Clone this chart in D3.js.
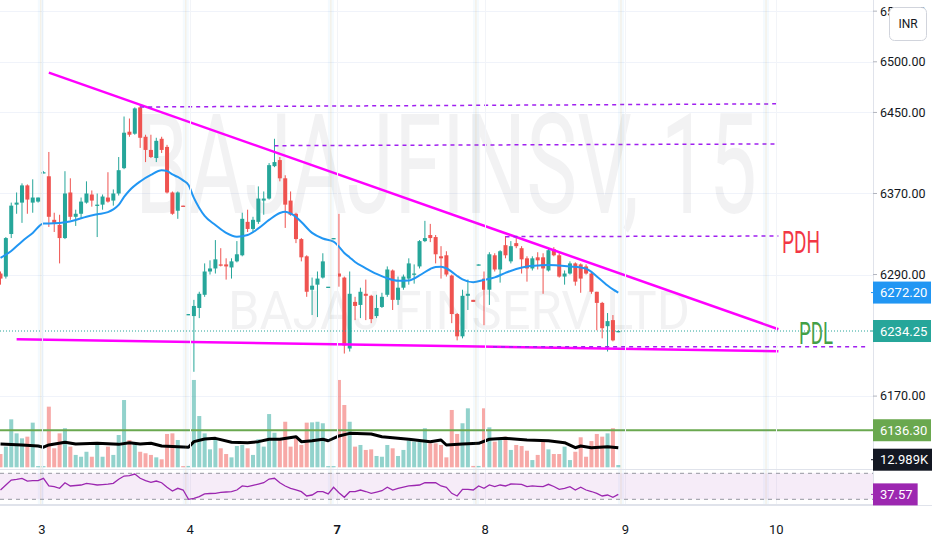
<!DOCTYPE html>
<html><head><meta charset="utf-8">
<script src="https://cdn.jsdelivr.net/npm/d3@7"></script>
<style>
body{margin:0;background:#fff;overflow:hidden}
svg{display:block;font-family:Roboto,"Noto Sans",sans-serif}
</style>
</head><body>
<svg id="c" width="932" height="550"></svg>
<script>
// ---------- data (15-min bars, BAJAJFINSV) ----------
const opens=[6291,6288,6330,6359,6361,6378,6361,6362,6391,6387,6344,6339,6326,6371,6347,6350,6361,6369,6358,6359,6366,6363,6370,6395,6431,6429,6455,6426,6413,6405,6424,6416,6371,6353,6358,6250,6249,6257,6270,6293,6296,6300,6300,6297,6303,6309,6342,6335,6342,6363,6365,6397,6403,6385,6363,6350,6325,6308,6275,6280,6287,6278,6325,6291,6287,6217,6263,6260,6271,6269,6249,6258,6270,6294,6265,6277,6286,6290,6298,6323,6329,6327,6308,6309,6289,6251,6229,6269,6265,6299,6286,6275,6309,6295,6319,6303,6321,6316,6306,6296,6307,6307,6294,6315,6309,6288,6291,6301,6300,6298,6291,6273,6262,6239,6245,6233];
const highs=[6293,6327,6361,6371,6380,6379,6384,6366,6392,6411,6351,6349,6392,6385,6354,6366,6382,6373,6370,6369,6391,6374,6406,6446,6444,6455,6457,6428,6428,6425,6426,6418,6372,6372,6358,6251,6265,6273,6301,6304,6324,6316,6306,6306,6323,6351,6354,6347,6377,6372,6400,6424,6406,6388,6372,6351,6326,6309,6287,6293,6311,6278,6326,6350,6288,6293,6268,6277,6285,6270,6270,6272,6298,6295,6288,6290,6306,6300,6324,6343,6340,6329,6318,6313,6290,6252,6275,6285,6265,6300,6293,6312,6311,6314,6328,6323,6328,6318,6308,6308,6312,6311,6316,6317,6311,6294,6303,6302,6301,6300,6293,6273,6263,6252,6250,6235];
const lows=[6280,6286,6326,6350,6341,6350,6351,6361,6390,6337,6332,6301,6325,6344,6338,6345,6360,6357,6327,6354,6361,6358,6368,6394,6426,6428,6415,6401,6405,6401,6410,6370,6349,6345,6357,6250,6194,6247,6268,6290,6291,6298,6285,6286,6302,6308,6332,6332,6340,6349,6364,6396,6382,6336,6348,6321,6303,6268,6250,6248,6286,6278,6325,6278,6212,6214,6245,6247,6245,6242,6247,6257,6268,6255,6260,6275,6280,6281,6296,6322,6322,6301,6286,6288,6242,6225,6227,6255,6263,6299,6240,6260,6293,6282,6306,6301,6316,6291,6283,6294,6295,6271,6293,6308,6287,6280,6290,6279,6272,6290,6271,6235,6227,6214,6224,6233];
const closes=[6286,6326,6358,6361,6378,6364,6366,6366,6391,6347,6341,6326,6370,6347,6350,6362,6370,6363,6359,6367,6362,6370,6393,6430,6428,6454,6425,6413,6406,6422,6413,6371,6350,6371,6357,6251,6259,6271,6293,6296,6305,6299,6298,6303,6310,6345,6335,6344,6365,6365,6398,6401,6385,6359,6349,6325,6307,6273,6279,6286,6303,6278,6326,6288,6220,6271,6259,6273,6269,6246,6257,6268,6295,6265,6277,6288,6301,6291,6323,6326,6326,6310,6306,6290,6251,6229,6269,6271,6263,6300,6275,6310,6295,6313,6309,6318,6318,6305,6296,6306,6304,6296,6314,6309,6288,6291,6301,6283,6286,6291,6273,6262,6237,6244,6225,6234.25];
// volume in thousands
const volumes=[8.8,13.7,31.8,22.5,19.2,20.3,29.6,0.8,0.8,40.2,12.6,22.5,25.9,13.7,8.2,7.0,10.3,7.0,14.8,7.0,13.7,8.2,21.4,44.6,18.1,15.9,10.3,9.3,8.2,6.6,5.3,22.1,22.5,18.1,0.8,0.9,57.9,34.0,22.5,11.9,18.1,12.6,8.8,6.6,14.1,14.8,12.6,8.2,18.6,13.7,35.3,22.9,18.1,30.2,13.7,19.2,14.8,29.6,29.8,30.2,29.2,0.8,0.8,57.9,41.3,30.2,13.7,14.8,11.5,11.9,7.5,7.0,14.8,12.6,7.5,11.5,17.7,17.0,17.0,25.9,15.9,15.9,14.8,6.6,38.0,22.1,29.2,39.1,0.9,0.9,39.1,26.5,17.0,18.1,20.3,11.5,14.8,14.1,11.0,4.8,8.2,17.0,11.9,8.8,8.8,13.7,4.8,10.3,19.9,7.0,17.4,22.1,20.3,22.5,25.9,1.5];
const rsi=[44.3,52.0,59.7,60.8,62.3,58.1,58.6,58.6,62.3,50.5,49.4,46.9,55.5,50.5,51.2,52.0,54.6,53.5,52.0,52.7,53.5,54.6,60.8,65.8,66.3,68.9,62.3,58.6,56.1,58.1,55.5,48.5,42.8,46.9,44.3,30.0,31.5,34.0,38.2,38.9,39.2,40.8,41.2,41.7,44.3,50.5,49.4,51.5,53.5,55.5,61.2,62.3,55.5,50.5,46.9,44.5,41.7,35.1,36.6,41.7,41.7,38.2,48.5,40.2,33.1,41.7,41.7,44.3,42.0,39.2,41.2,43.2,48.5,44.3,46.9,48.9,50.5,51.2,52.0,55.5,55.5,55.5,50.5,48.5,39.2,35.1,45.4,45.4,44.3,50.5,46.9,52.0,49.4,52.0,50.5,53.5,53.3,53.1,49.4,50.5,50.0,49.4,53.1,49.7,45.4,46.9,49.4,44.3,48.5,44.3,42.0,39.2,35.1,36.6,33.1,37.57];
const emaIdx=[0,2,4,6,8,10,12,14,16,18,20,21,22,23,24,26,28,30,31,32,33,34,35,36,37,38,40,42,44,46,48,50,52,53,54,55,56,58,60,62,63,64,65,66,68,70,72,74,76,78,80,81,82,83,84,85,86,88,90,92,94,96,98,100,102,104,106,108,109,110,111,112,113,114,115];
const emaVal=[6306.4,6313.3,6322.7,6331.1,6340.4,6340.6,6341.6,6343.9,6347.1,6349.5,6351.6,6354.3,6358.7,6366.6,6373,6381.9,6388.3,6392.9,6392.2,6388.8,6386.3,6382.9,6378.4,6365.6,6355.7,6347.8,6338.9,6331.1,6327.4,6329.1,6335.5,6343.9,6350.8,6352.1,6350.3,6346.8,6341.9,6331.1,6325.6,6322.5,6317.5,6311.3,6306.9,6302.4,6296.2,6290.6,6286.3,6283.9,6284.2,6289.1,6295.5,6297.5,6297.8,6296.2,6292.6,6288.6,6285.2,6282.4,6284.7,6287.2,6291.6,6295.5,6298,6298.8,6299.5,6298.8,6298,6297,6295.8,6292.6,6288.1,6283.7,6279.2,6275.3,6272.2];
const volMaIdx=[0,4,7,8,9,12,14,18,22,24,26,28,30,33,35,36,38,40,43,46,48,50,52,55,56,58,60,61,63,65,69,71,76,80,82,83,86,89,91,94,98,102,105,107,108,110,113,115];
const volMaVal=[15.4,14.8,14.1,13.3,14.8,16.6,15.4,15.9,15.2,16.3,15.4,15.9,14.1,13.7,13.3,17.0,18.8,19.2,16.6,16.3,17.0,18.6,18.6,20.3,17.0,17.6,18.6,17.6,20.8,22.5,22.1,20.3,18.6,17.0,18.1,14.8,15.4,15.9,18.6,19.2,18.1,17.6,16.3,13.0,14.1,13.0,13.7,12.989];
const priceTicks=[6550,6500,6450,6370,6290,6170];
const dayLabels=["3","4","7","8","9","10"];
const dayTickIdx=[7.7,35.3,62.7,90.2,116.3,144.4];
const sessionIdx=[7.5,34.5,61.5,88.5,115.5,142.5];
// drawings: [barIndex, price]
const upperTrend=[[9,6489.3],[144.8,6236.0]];
const lowerTrend=[[3,6226.1],[144.8,6214.3]];
const dashLevels=[[[26,6455.4],[144.8,6458.5]],[[51,6417.2],[144.8,6418.9]],[[94,6327.4],[144.8,6328]],[[91.7,6218.8],[161,6218.8]]];
const levelLine=6136.30;
const lastPrice=6234.25, lastEma=6272.20, lastVolMa="12.989K", lastRsi=37.57;

// ---------- layout ----------
const W=932,H=550,PR=873,MAINB=469,RT=470,RB=504,AXB=505;
const svg=d3.select("#c");
const x=d3.scaleLinear().domain([0,115]).range([0.5,618.3]);
const y=d3.scaleLinear().domain([6170,6500]).range([396.1,61.8]);
const vy=d3.scaleLinear().domain([0,60]).range([467.3,376.8]);
const ry=d3.scaleLinear().domain([30,70]).range([499.3,473.3]);
const GREEN="#26a69a",RED="#ef5350";

svg.append("rect").attr("width",W).attr("height",H).attr("fill","#fff");
const defs=svg.append("defs");
defs.append("clipPath").attr("id","mainClip").append("rect").attr("x",0).attr("y",0).attr("width",PR).attr("height",MAINB);
defs.append("clipPath").attr("id","rsiClip").append("rect").attr("x",0).attr("y",RT).attr("width",PR).attr("height",RB-RT);

const main=svg.append("g").attr("clip-path","url(#mainClip)");
// grid
main.selectAll(".hg").data(priceTicks).join("line").attr("x1",0).attr("x2",PR)
  .attr("y1",d=>Math.round(y(d))+0.5).attr("y2",d=>Math.round(y(d))+0.5).attr("stroke","#f0f3fa");
svg.selectAll(".vg").data(dayTickIdx).join("line").attr("y1",0).attr("y2",RB)
  .attr("x1",d=>Math.round(x(d))+0.5).attr("x2",d=>Math.round(x(d))+0.5).attr("stroke","#f2f4f8");
// session breaks
svg.selectAll(".sb").data(sessionIdx).join("rect").attr("x",d=>x(d)-3).attr("width",6).attr("y",0).attr("height",RB)
  .attr("fill","rgba(33,150,243,0.05)");
svg.selectAll(".sl").data(sessionIdx).join("line").attr("x1",d=>x(d)).attr("x2",d=>x(d)).attr("y1",0).attr("y2",RB)
  .attr("stroke","rgba(255,152,0,0.13)");

// condensed text helper: scales a text horizontally to a target width
function fitText(parent,x0,y0,size,width,fill,str){
  const t=parent.append("text").attr("x",0).attr("y",0).style("font-size",size+"px").attr("fill",fill).text(str);
  const w=t.node().getComputedTextLength();
  t.attr("transform",`translate(${x0},${y0}) scale(${width/w},1)`);
  return t;
}
// watermark
fitText(main,135,213,140,622,"rgba(19,23,34,0.055)","BAJAJFINSV, 15");
fitText(main,228,329,54,462,"rgba(19,23,34,0.055)","BAJAJ FINSERV LTD");

const bars=d3.range(opens.length).map(i=>({i,o:opens[i],h:highs[i],l:lows[i],c:closes[i],v:volumes[i]}));
const up=d=>d.c>=d.o;

// volume
main.selectAll(".vol").data(bars).join("rect").attr("x",d=>x(d.i)-2).attr("width",4)
  .attr("y",d=>vy(d.v)).attr("height",d=>vy(0)-vy(d.v))
  .attr("fill",d=>up(d)?"rgba(38,166,154,0.5)":"rgba(239,83,80,0.5)");
// volume MA
const volMa=volMaIdx.map((k,j)=>[k,volMaVal[j]]);
main.append("path").datum(volMa).attr("fill","none").attr("stroke","#000").attr("stroke-width",3)
  .attr("stroke-linejoin","round").attr("d",d3.line().x(d=>x(d[0])).y(d=>vy(d[1])));
// level line
main.append("line").attr("x1",0).attr("x2",PR).attr("y1",y(levelLine)).attr("y2",y(levelLine))
  .attr("stroke","#6aa84f").attr("stroke-width",2);

// candles
main.selectAll(".wick").data(bars).join("line")
  .attr("x1",d=>x(d.i)).attr("x2",d=>x(d.i)).attr("y1",d=>y(d.h)).attr("y2",d=>y(d.l))
  .attr("stroke",d=>up(d)?GREEN:RED).attr("stroke-width",1);
main.selectAll(".body").data(bars).join("rect")
  .attr("x",d=>x(d.i)-2).attr("width",4)
  .attr("y",d=>y(Math.max(d.o,d.c))).attr("height",d=>Math.max(1.3,Math.abs(y(d.o)-y(d.c))))
  .attr("fill",d=>up(d)?GREEN:RED);

// EMA
const ema=emaIdx.map((k,j)=>[k,emaVal[j]]);
main.append("path").datum(ema).attr("fill","none").attr("stroke","#2196f3").attr("stroke-width",2)
  .attr("d",d3.line().curve(d3.curveMonotoneX).x(d=>x(d[0])).y(d=>y(d[1])));

// trend lines
[upperTrend,lowerTrend].forEach(t=>{
  main.append("line").attr("x1",x(t[0][0])).attr("y1",y(t[0][1])).attr("x2",x(t[1][0])).attr("y2",y(t[1][1]))
   .attr("stroke","#ff00ff").attr("stroke-width",2.5);
});
dashLevels.forEach(t=>{
  main.append("line").attr("x1",x(t[0][0])).attr("y1",y(t[0][1])).attr("x2",x(t[1][0])).attr("y2",y(t[1][1]))
   .attr("stroke","#a020f0").attr("stroke-width",1.5).attr("stroke-dasharray","4,4");
});
// last price dotted
main.append("line").attr("x1",0).attr("x2",PR).attr("y1",y(lastPrice)).attr("y2",y(lastPrice))
  .attr("stroke",GREEN).attr("stroke-width",1).attr("stroke-dasharray","1,2");

// PDH / PDL
fitText(main,782,253,31,38,"#f23645","PDH");
fitText(main,799,344,31,34,"#43a047","PDL");

// RSI pane
svg.append("line").attr("x1",0).attr("x2",PR).attr("y1",MAINB+0.5).attr("y2",MAINB+0.5).attr("stroke","#e0e3eb");
const rsiG=svg.append("g").attr("clip-path","url(#rsiClip)");
rsiG.append("rect").attr("x",0).attr("width",PR).attr("y",ry(70)).attr("height",ry(30)-ry(70)).attr("fill","rgba(156,39,176,0.09)");
[70,30].forEach(v=>rsiG.append("line").attr("x1",0).attr("x2",PR).attr("y1",ry(v)).attr("y2",ry(v))
  .attr("stroke","#9598a1").attr("stroke-dasharray","4,4"));
rsiG.append("path").datum(rsi).attr("fill","none").attr("stroke","#9c27b0").attr("stroke-width",1.3)
  .attr("d",d3.line().x((d,i)=>x(i)).y(d=>ry(d)));

// axis borders
svg.append("line").attr("x1",PR+0.5).attr("x2",PR+0.5).attr("y1",0).attr("y2",AXB).attr("stroke","#e0e3eb");
svg.append("line").attr("x1",0).attr("x2",W).attr("y1",AXB+0.5).attr("y2",AXB+0.5).attr("stroke","#e0e3eb");
svg.append("line").attr("x1",0).attr("x2",PR).attr("y1",RB+0.5).attr("y2",RB+0.5).attr("stroke","#e0e3eb");

// right axis
const ax=svg.append("g");
ax.selectAll(".tk").data(priceTicks).join("line").attr("x1",PR).attr("x2",PR+4)
  .attr("y1",d=>y(d)).attr("y2",d=>y(d)).attr("stroke","#b2b5be");
ax.selectAll(".tl").data(priceTicks).join("text").attr("x",880).attr("y",d=>y(d)).attr("dy","0.35em")
  .style("font-size","12.5px").attr("fill","#131722").text(d=>d.toFixed(2));

function tag(cy,label,bg,right){
  const g=svg.append("g");
  const t=g.append("text").attr("x",PR+7).attr("y",cy).attr("dy","0.36em").style("font-size","13px").attr("fill","#fff").text(label);
  const w=right?right-PR:t.node().getComputedTextLength()+12;
  g.insert("rect","text").attr("x",PR).attr("y",cy-11).attr("width",w).attr("height",22).attr("fill",bg);
  g.insert("line","rect").attr("x1",PR-2).attr("x2",PR).attr("y1",cy).attr("y2",cy).attr("stroke",bg);
}
tag(y(lastEma),lastEma.toFixed(2),"#2196f3",931);
tag(y(lastPrice),lastPrice.toFixed(2),"#26a69a",931);
tag(vy(volMaVal[volMaVal.length-1])+12,lastVolMa,"#131722",935);
tag(y(levelLine),levelLine.toFixed(2),"#6aa84f",931);
tag(ry(lastRsi),lastRsi.toFixed(2),"#9c27b0",null);

// currency box
svg.append("rect").attr("x",889.5).attr("y",7.5).attr("width",37).attr("height",33).attr("rx",5)
  .attr("fill","#fff").attr("stroke","#d1d4dc");
svg.append("text").attr("x",908).attr("y",24).attr("dy","0.35em").attr("text-anchor","middle")
  .style("font-size","12px").attr("fill","#131722").text("INR");

// bottom axis
svg.selectAll(".dl").data(dayLabels).join("text").attr("x",(d,i)=>x(dayTickIdx[i])).attr("y",529)
  .attr("dy","0.35em").attr("text-anchor","middle").style("font-size","13px").attr("fill","#131722")
  .style("font-weight",d=>d==="7"?"700":"400").text(d=>d);
</script>
</body></html>
